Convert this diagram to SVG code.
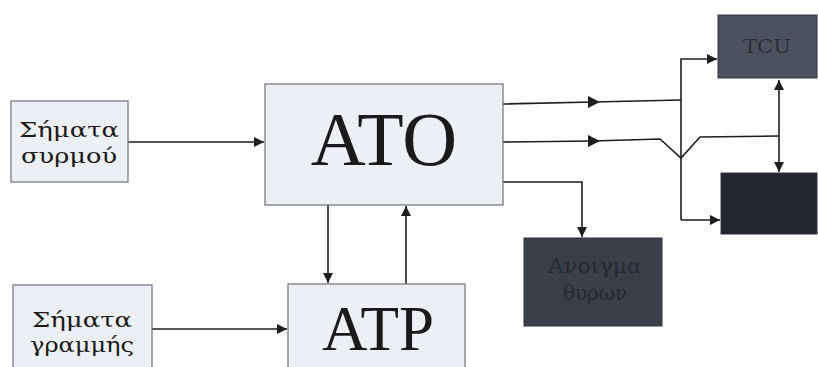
<svg xmlns="http://www.w3.org/2000/svg" width="818" height="367" viewBox="0 0 818 367">
<style>
.light{fill:#eceff3;stroke:#7a7c80;stroke-width:1.3}
.dark{stroke:#30343c;stroke-width:1}
.lbl{font-family:"DejaVu Serif","Liberation Serif",serif;fill:#1a1a1a;text-anchor:middle}
.big{font-family:"Liberation Serif","DejaVu Serif",serif;fill:#1a1a1a;text-anchor:middle}
.dlbl{font-family:"DejaVu Serif","Liberation Serif",serif;text-anchor:middle}
.ln{fill:none;stroke:#1e1e1e;stroke-width:1.6}
</style>
<defs>
<marker id="ah" viewBox="0 0 10 10" refX="10" refY="5" markerWidth="10" markerHeight="10" markerUnits="userSpaceOnUse" orient="auto-start-reverse">
<path d="M0,0 L10,5 L0,10 z" fill="#1e1e1e"/>
</marker>
</defs>
<rect width="818" height="367" fill="#ffffff"/>
<g id="connectors">
<path class="ln" d="M128,142 L264,142" marker-end="url(#ah)"/>
<path class="ln" d="M152,329 L287,329" marker-end="url(#ah)"/>
<path class="ln" d="M328,205 L328,283" marker-end="url(#ah)"/>
<path class="ln" d="M406,284 L406,206" marker-end="url(#ah)"/>
<path class="ln" d="M503,104 L593,102 L681,100"/>
<polygon points="588,96 600,102 588,108" fill="#1e1e1e"/>
<path class="ln" d="M681,220 L681,59 L717,59" marker-end="url(#ah)"/>
<path class="ln" d="M681,220 L720,220" marker-end="url(#ah)"/>
<path class="ln" d="M503,142 L593,141 L660,139 L681,158 L700,137 L779,136"/>
<polygon points="588,135 600,141 588,147" fill="#1e1e1e"/>
<path class="ln" d="M779,80 L779,172" marker-start="url(#ah)" marker-end="url(#ah)"/>
<path class="ln" d="M503,182 L582,182 L582,237" marker-end="url(#ah)"/>
</g>
<g id="node-syrmou">
<rect class="light" x="11" y="101" width="117" height="81"/>
<text class="lbl" x="69" y="137" font-size="21" textLength="100" lengthAdjust="spacingAndGlyphs">Σήματα</text>
<text class="lbl" x="69" y="163" font-size="21" textLength="96" lengthAdjust="spacingAndGlyphs">συρμού</text>
</g>
<g id="node-grammis">
<rect class="light" x="13" y="285" width="139" height="90"/>
<text class="lbl" x="82" y="327" font-size="21" textLength="100" lengthAdjust="spacingAndGlyphs">Σήματα</text>
<text class="lbl" x="82" y="352" font-size="21" textLength="104" lengthAdjust="spacingAndGlyphs">γραμμής</text>
</g>
<g id="node-ato">
<rect class="light" x="265" y="84" width="238" height="121"/>
<text class="big" x="384" y="165" font-size="76">ATO</text>
</g>
<g id="node-atp">
<rect class="light" x="288" y="284" width="177" height="90"/>
<text class="big" x="378" y="350" font-size="63">ATP</text>
</g>
<g id="node-tcu">
<rect class="dark" x="718" y="15" width="99" height="63" fill="#4b525e"/>
<text class="dlbl" x="767" y="53" font-size="19" fill="#2a2f37" textLength="48" lengthAdjust="spacingAndGlyphs">TCU</text>
</g>
<g id="node-lower">
<rect class="dark" x="721" y="173" width="96" height="61" fill="#23262f"/>
</g>
<g id="node-doors">
<rect class="dark" x="524" y="238" width="138" height="88" fill="#3b3f48"/>
<text class="dlbl" x="595" y="273" font-size="21" fill="#262a31" textLength="94" lengthAdjust="spacingAndGlyphs">Ανοιγμα</text>
<text class="dlbl" x="595" y="300" font-size="21" fill="#262a31" textLength="64" lengthAdjust="spacingAndGlyphs">θυρων</text>
</g>
</svg>
